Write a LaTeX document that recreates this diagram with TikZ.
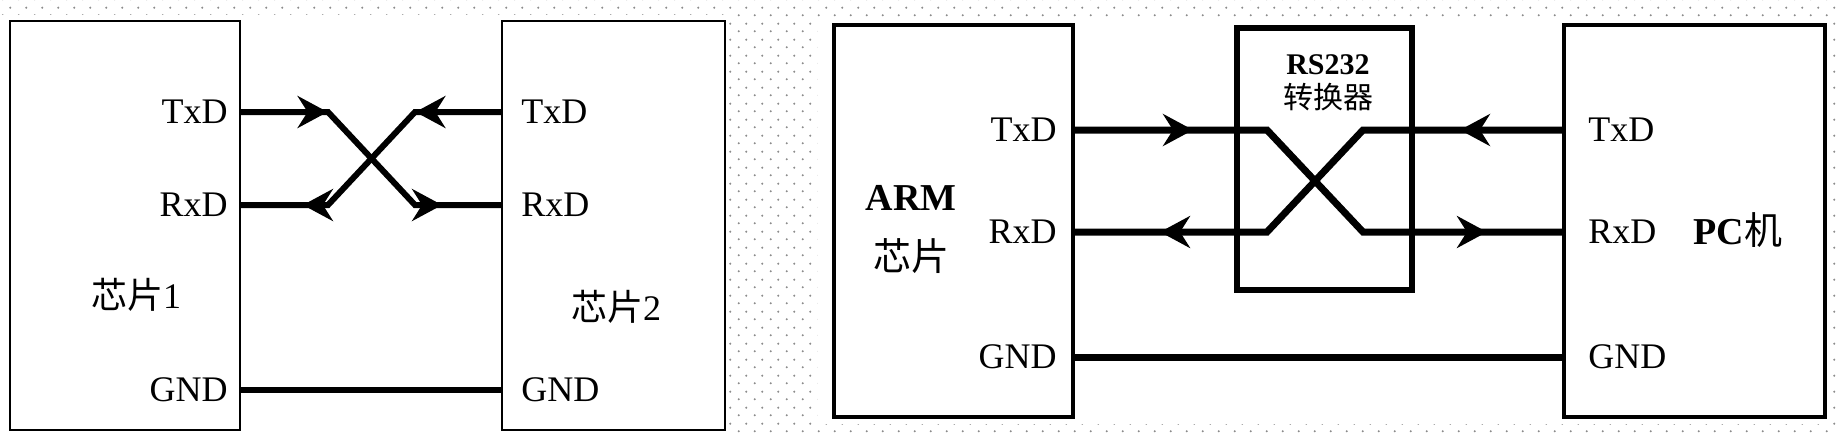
\documentclass[tikz,border=0pt]{standalone}
\usepackage{fontspec}
\setmainfont{Liberation Serif}
\newfontfamily\cjk{Noto Sans CJK SC}
\usetikzlibrary{arrows.meta}
\usetikzlibrary{decorations.markings}
\usetikzlibrary{patterns.meta}
\usetikzlibrary{positioning}
\definecolor{dotgray}{gray}{0.55}
\tikzdeclarepattern{
  name=slidedots,
  type=uncolored,
  bounding box={(0pt,0pt) and (8pt,8pt)},
  tile size={(8pt,8pt)},
  code={
    \fill (2pt,2pt) circle (0.6pt);
    \fill (6pt,6pt) circle (0.6pt);
  }
}
\tikzset{
  box/.style={draw, line width=1.4pt, outer sep=0, inner sep=0},
  thickbox/.style={box, line width=2pt},
  convbox/.style={box, line width=2.8pt},
  pinlbl/.style={inner sep=0, font=\fontsize{18}{20}\selectfont},
  namelbl/.style={inner sep=0, align=center},
  sigtip/.tip={Stealth[length=15pt, width=16pt, inset=5pt]},
  sig/.style={line width=3pt},
  flow/.style 2 args={postaction={decorate, decoration={markings,
      mark=at position #1 with {\arrow{sigtip}},
      mark=at position #2 with {\arrow{sigtip}}}}}
}

\begin{document}
\begin{tikzpicture}[x=0.5pt, y=-0.5pt]
  \useasboundingbox (0,0) rectangle (1837,434);
  % slide background
  \fill[pattern=slidedots, pattern color=dotgray] (0,0) rectangle (1837,434);
  \fill[white] (0,15) rectangle (729,434);
  \fill[white] (818,17) rectangle (1828,424);

  % chip to chip
  \node[box, minimum width=115pt, minimum height=204.5pt] (chipA) at (125,225.5) {};
  \node[box, minimum width=111.5pt, minimum height=204.5pt] (chipB) at (613.5,225.5) {};
  \coordinate (atx)  at (chipA.east |- 0,112);
  \coordinate (arx)  at (chipA.east |- 0,205);
  \coordinate (agnd) at (chipA.east |- 0,390);
  \coordinate (btx)  at (chipB.west |- 0,112);
  \coordinate (brx)  at (chipB.west |- 0,205);
  \coordinate (bgnd) at (chipB.west |- 0,390);
  \node[pinlbl, left=6pt of atx] (atxl) {TxD};
  \node[pinlbl, left=6pt of arx] (arxl) {RxD};
  \node[pinlbl, left=6pt of agnd] (agndl) {GND};
  \node[pinlbl, right=9.5pt of btx] (btxl) {TxD};
  \node[pinlbl, right=9.5pt of brx] (brxl) {RxD};
  \node[pinlbl, right=9.5pt of bgnd] (bgndl) {GND};
  \node[namelbl, font=\fontsize{18}{20}\selectfont] (nameA) at (136,295) {{\cjk 芯片}1};
  \node[namelbl, font=\fontsize{18}{20}\selectfont] (nameB) at (616,307) {{\cjk 芯片}2};

  \coordinate (k1) at (328,112);
  \coordinate (k2) at (415,205);
  \coordinate (k3) at (415,112);
  \coordinate (k4) at (328,205);
  \draw[sig, flow={43.8pt}{121.2pt}] (atx) -- (k1) -- (k2) -- (brx);
  \draw[sig, flow={43.3pt}{119.7pt}] (btx) -- (k3) -- (k4) -- (arx);
  \draw[sig] (agnd) -- (bgnd);

  % ARM to PC through RS232
  \node[thickbox, minimum width=119.5pt, minimum height=196pt] (arm) at (953.5,221) {};
  \node[convbox, minimum width=87.5pt, minimum height=131pt] (conv) at (1324.5,159) {};
  \node[thickbox, minimum width=130.5pt, minimum height=196pt] (pc) at (1694.5,221) {};
  \coordinate (mtx)  at (arm.east |- 0,130);
  \coordinate (mrx)  at (arm.east |- 0,232);
  \coordinate (mgnd) at (arm.east |- 0,357);
  \coordinate (ptx)  at (pc.west |- 0,130);
  \coordinate (prx)  at (pc.west |- 0,232);
  \coordinate (pgnd) at (pc.west |- 0,357);
  \node[pinlbl, left=8pt of mtx] (mtxl) {TxD};
  \node[pinlbl, left=8pt of mrx] (mrxl) {RxD};
  \node[pinlbl, left=8pt of mgnd] (mgndl) {GND};
  \node[pinlbl, right=12pt of ptx] (ptxl) {TxD};
  \node[pinlbl, right=12pt of prx] (prxl) {RxD};
  \node[pinlbl, right=12pt of pgnd] (pgndl) {GND};
  \node[namelbl, font=\fontsize{19}{30}\selectfont] (armname) at (911,230) {\textbf{ARM}\\{\cjk 芯片}};
  \node[namelbl, font=\fontsize{19}{22}\selectfont] (pcname) at (1738,230) {\textbf{PC}{\cjk 机}};
  \node[namelbl, font=\fontsize{15}{17}\selectfont] (convname) at (1328,83) {\textbf{RS232}\\{\cjk 转换器}};

  \coordinate (j1) at (1267,130);
  \coordinate (j2) at (1363,232);
  \coordinate (j3) at (1363,130);
  \coordinate (j4) at (1267,232);
  \draw[sig, line width=3.5pt, flow={60pt}{229pt}] (mtx) -- (j1) -- (j2) -- (prx);
  \draw[sig, line width=3.5pt, flow={52pt}{224pt}] (ptx) -- (j3) -- (j4) -- (mrx);
  \draw[sig, line width=3.5pt] (mgnd) -- (pgnd);
\end{tikzpicture}
\end{document}
